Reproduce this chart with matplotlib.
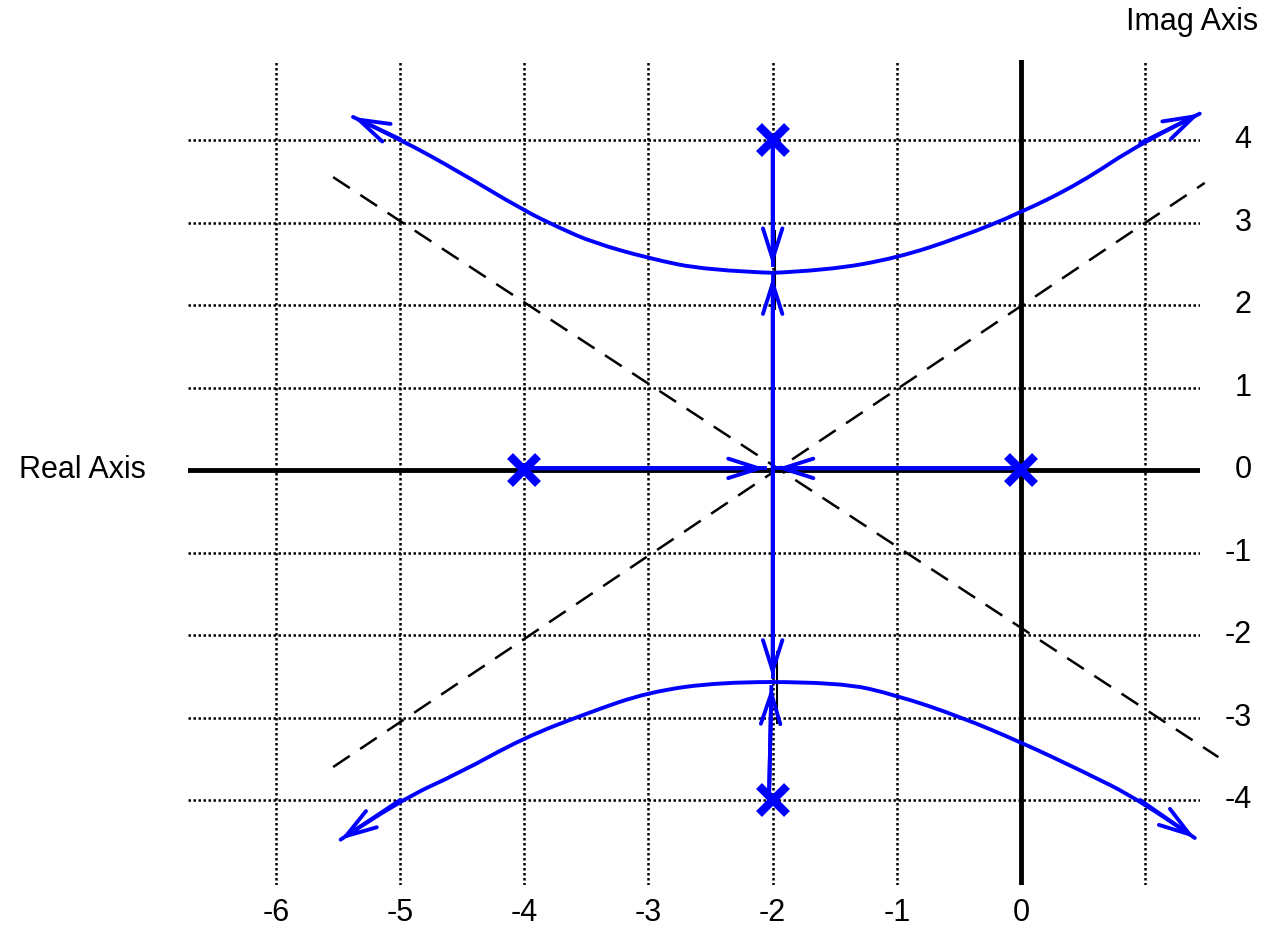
import matplotlib
matplotlib.use("Agg")
import matplotlib.pyplot as plt
from matplotlib.path import Path
from matplotlib.patches import PathPatch

plt.rcParams['font.family'] = ['Liberation Sans', 'DejaVu Sans']

# poles of G(s) = K / (s (s+4) (s^2+4s+20))
polos_re = [0, -4, -2, -2]
polos_im = [0, 0, 4, -4]

# break points
quiebre_sup = 2.4
quiebre_inf = -2.57

# complex branches (from the break point outwards)
sup_izq_x = [-2.0, -2.53, -3.01, -3.45, -3.71, -4.01, -4.52, -5.0, -5.38]
sup_izq_y = [2.39, 2.42, 2.57, 2.76, 2.93, 3.15, 3.61, 4.01, 4.28]
sup_der_x = [-2.0, -1.56, -1.0, -0.49, 0.0, 0.48, 0.96, 1.44]
sup_der_y = [2.39, 2.42, 2.57, 2.82, 3.12, 3.48, 3.96, 4.32]
inf_izq_x = [-2.02, -2.42, -3.0, -3.5, -4.01, -4.52, -5.0, -5.48]
inf_izq_y = [-2.57, -2.57, -2.69, -2.95, -3.25, -3.67, -4.0, -4.48]
inf_der_x = [-2.02, -1.46, -1.0, -0.49, 0.0, 0.48, 0.96, 1.40]
inf_der_y = [-2.57, -2.57, -2.73, -2.99, -3.30, -3.64, -4.0, -4.46]

# asymptotes through the centroid (-2, 0)
asint1_x = [-5.54, 1.59]
asint1_y = [3.55, -3.48]
asint2_x = [-5.54, 1.48]
asint2_y = [-3.6, 3.48]

xticks = [-6, -5, -4, -3, -2, -1, 0]
yticks = [4, 3, 2, 1, 0, -1, -2, -3, -4]
grid_x = [-6, -5, -4, -3, -2, -1, 0, 1]

AZUL = '#0000ff'
LW = 2.8
flecha = dict(arrowstyle='->,head_length=2.2,head_width=0.7', color=AZUL,
              lw=LW, shrinkA=0, shrinkB=0)


def punta(ax, xs, ys):
    ax.annotate('', xy=(xs[-1], ys[-1]), xytext=(xs[-2], ys[-2]),
                arrowprops=flecha, annotation_clip=False, zorder=6)


def rama(ax, xs, ys):
    ax.plot(xs, ys, color=AZUL, lw=LW, clip_on=False, zorder=5)
    punta(ax, xs, ys)


def rama_suave(ax, xs, ys):
    # quadratic bezier through the midpoints, the read points act as controls
    pts = list(zip(xs, ys))
    verts = [pts[0]]
    codes = [Path.MOVETO]
    for i in range(1, len(pts) - 1):
        if i == len(pts) - 2:
            fin = pts[-1]
        else:
            fin = ((pts[i][0] + pts[i + 1][0]) / 2, (pts[i][1] + pts[i + 1][1]) / 2)
        verts += [pts[i], fin]
        codes += [Path.CURVE3, Path.CURVE3]
    ax.add_patch(PathPatch(Path(verts, codes), fill=False, edgecolor=AZUL,
                           lw=LW, clip_on=False, zorder=5, capstyle='round'))
    punta(ax, xs, ys)


fig = plt.figure(figsize=(12.66, 9.27), dpi=100)
ax = fig.add_axes([188 / 1266, 42 / 927, 1012 / 1266, 825 / 927])
ax.set_xlim(-6.709, 1.442)
ax.set_ylim(-5.03, 4.97)
ax.axis('off')

# dotted grid
for gx in grid_x:
    ax.axvline(gx, color='black', lw=1.8, ls=(0, (1, 1)), zorder=1)
for gy in yticks:
    ax.axhline(gy, color='black', lw=1.8, ls=(0, (1, 1)), zorder=1)

# real and imaginary axes
ax.axhline(0, color='black', lw=3.5, zorder=2)
ax.axvline(0, color='black', lw=3.5, zorder=2)

ax.plot(asint1_x, asint1_y, color='black', lw=1.8, dashes=(8, 5), clip_on=False, zorder=3)
ax.plot(asint2_x, asint2_y, color='black', lw=1.8, dashes=(8, 5), clip_on=False, zorder=3)

# small black marks near the break points
ax.plot([-1.98, -1.98], [1.95, 2.9], color='black', lw=1.5, zorder=3)
ax.plot([-1.965, -1.965], [-2.2, -3.07], color='black', lw=1.5, zorder=3)

# real-axis locus
rama(ax, [-4, -2.06], [0.02, 0.02])
rama(ax, [0, -1.97], [0.02, 0.02])

# vertical segments
rama(ax, [-2, -2], [4, quiebre_sup + 0.08])
rama(ax, [-2, -2], [0, quiebre_sup - 0.06])
rama(ax, [-2, -2], [0, quiebre_inf + 0.06])
rama(ax, [-2.03, -2.01], [-4.02, quiebre_inf - 0.06])

# complex branches
rama_suave(ax, sup_izq_x, sup_izq_y)
rama_suave(ax, sup_der_x, sup_der_y)
rama_suave(ax, inf_izq_x, inf_izq_y)
rama_suave(ax, inf_der_x, inf_der_y)

ax.plot(polos_re, polos_im, 'x', color=AZUL, ms=20, mew=6, zorder=8)

trans_x = ax.get_xaxis_transform()
for t in xticks:
    ax.text(t, -0.034, str(t), transform=trans_x, ha='center', va='center', fontsize=22)
trans_y = ax.get_yaxis_transform()
for t in yticks:
    ax.text(1.051, t, str(t), transform=trans_y, ha='right', va='center', fontsize=22)

fig.text(82 / 1266, 1 - 470 / 927, 'Real Axis', ha='center', va='center', fontsize=22)
fig.text(1192 / 1266, 1 - 22 / 927, 'Imag Axis', ha='center', va='center', fontsize=22)

fig.savefig('out.png', dpi=100)
